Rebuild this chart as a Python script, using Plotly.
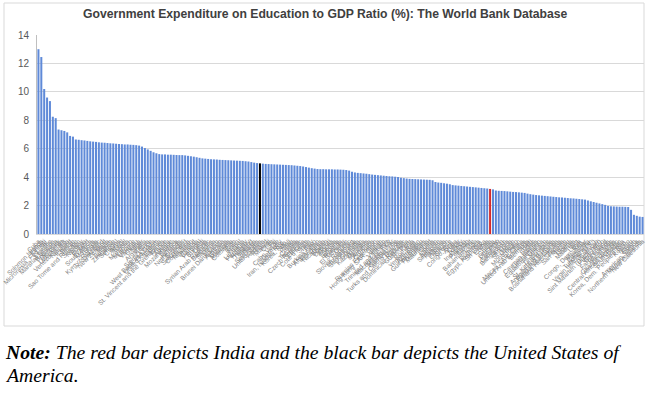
import plotly.graph_objects as go

countries = [
    "Cuba", "Solomon Islands", "Kiribati", "Micronesia, Fed. Sts.", "Lesotho", "Marshall Islands",
    "Botswana", "Denmark", "Uzbekistan", "Venezuela, RB", "Namibia", "Iceland", "Belize",
    "Sao Tome and Principe", "Sweden", "Norway", "Bolivia", "Finland", "South Africa", "Moldova",
    "Tunisia", "Kyrgyz Republic", "Swaziland", "New Zealand", "Malta", "Belgium", "Zimbabwe",
    "Senegal", "Cyprus", "Brazil", "Israel", "Mongolia", "Morocco", "Ukraine", "Vanuatu", "Ghana",
    "Niger", "Argentina", "Kenya", "Sierra Leone", "West Bank and Gaza", "United Kingdom", "Estonia",
    "St. Vincent and the Grenadines", "France", "Austria", "Mozambique", "Samoa", "Jamaica",
    "Netherlands", "Ecuador", "Switzerland", "Costa Rica", "Tajikistan", "Ireland", "Canada",
    "Portugal", "Burundi", "Latvia", "Syrian Arab Republic", "Barbados", "Slovenia", "Mexico",
    "Brunei Darussalam", "Australia", "Guyana", "Malaysia", "Colombia", "Togo", "Benin", "Nepal",
    "Lithuania", "Paraguay", "Hungary", "Thailand", "Belarus", "Seychelles", "United States",
    "Andorra", "Poland", "Malawi", "Chile", "Fiji", "Cabo Verde", "Germany", "Iran, Islamic Rep.",
    "Korea, Rep.", "Mali", "Palau", "Croatia", "Tanzania", "Czech Republic", "Ethiopia",
    "Cote d'Ivoire", "Spain", "Italy", "Burkina Faso", "Afghanistan", "Honduras", "Nicaragua",
    "Bhutan", "Djibouti", "Algeria", "Serbia", "Bulgaria", "Rwanda", "El Salvador", "Oman",
    "Slovak Republic", "Luxembourg", "Saudi Arabia", "Grenada", "Kazakhstan", "Georgia",
    "Mauritius", "Armenia", "Comoros", "Russian Federation", "Hong Kong SAR, China", "Japan",
    "Vietnam", "Trinidad and Tobago", "Macedonia, FYR", "Madagascar", "Gambia, The",
    "Turks and Caicos Islands", "Uganda", "Dominican Republic", "Guatemala", "Peru", "Romania",
    "Yemen, Rep.", "Azerbaijan", "Guinea-Bissau", "Philippines", "Mauritania", "Chad", "Liberia",
    "Bahrain", "Singapore", "Panama", "Albania", "Lebanon", "Greece", "Congo, Rep.", "Aruba",
    "Qatar", "Turkey", "Indonesia", "Pakistan", "Kuwait", "Bahamas, The", "Tonga", "Dominica",
    "Egypt, Arab Rep.", "Sri Lanka", "Eritrea", "India", "Guinea", "Uruguay", "Lao PDR",
    "Cameroon", "Bangladesh", "Angola", "St. Lucia", "Gabon", "Montenegro", "Jordan",
    "Macao SAR, China", "United Arab Emirates", "Bermuda", "Haiti", "Sudan", "Cayman Islands",
    "Liechtenstein", "Equatorial Guinea", "Monaco", "Timor-Leste", "St. Kitts and Nevis",
    "Antigua and Barbuda", "Papua New Guinea", "Bosnia and Herzegovina", "Zambia", "San Marino",
    "Tuvalu", "Nigeria", "Maldives", "Iraq", "Libya", "Congo, Dem. Rep.", "Myanmar", "Cambodia",
    "Turkmenistan", "Virgin Islands (U.S.)", "Curacao", "Sint Maarten (Dutch part)", "Puerto Rico",
    "Greenland", "Faroe Islands", "Isle of Man", "Channel Islands", "Central African Republic",
    "South Sudan", "Somalia", "Korea, Dem. People's Rep.", "Kosovo", "Nauru", "Guam",
    "American Samoa", "Northern Mariana Islands", "New Caledonia",
]

edu_pct_gdp = [
    13.0, 12.45, 10.2, 9.6, 9.35, 8.25, 8.15, 7.35, 7.3, 7.25,
    7.15, 6.9, 6.85, 6.65, 6.63, 6.6, 6.58, 6.55, 6.52, 6.5,
    6.48, 6.45, 6.43, 6.42, 6.4, 6.38, 6.37, 6.35, 6.33, 6.32,
    6.3, 6.3, 6.28, 6.27, 6.25, 6.22, 6.15, 6.05, 5.95, 5.85,
    5.75, 5.68, 5.62, 5.6, 5.6, 5.58, 5.58, 5.57, 5.56, 5.55,
    5.55, 5.53, 5.5, 5.47, 5.44, 5.4, 5.36, 5.32, 5.3, 5.28,
    5.26, 5.25, 5.24, 5.22, 5.21, 5.2, 5.19, 5.18, 5.17, 5.16,
    5.15, 5.14, 5.12, 5.1, 5.06, 5.02, 4.99, 4.97, 4.95, 4.93,
    4.92, 4.91, 4.9, 4.89, 4.88, 4.87, 4.86, 4.85, 4.84, 4.82,
    4.8, 4.78, 4.75, 4.71, 4.67, 4.63, 4.6, 4.57, 4.56, 4.56,
    4.55, 4.55, 4.55, 4.54, 4.54, 4.53, 4.52, 4.5, 4.46, 4.38,
    4.33, 4.3, 4.28, 4.26, 4.24, 4.21, 4.18, 4.16, 4.14, 4.12,
    4.1, 4.08, 4.06, 4.05, 4.03, 4.01, 3.96, 3.93, 3.9, 3.88,
    3.87, 3.86, 3.85, 3.84, 3.83, 3.82, 3.81, 3.78, 3.66, 3.62,
    3.6, 3.57, 3.54, 3.5, 3.44, 3.42, 3.4, 3.38, 3.36, 3.34,
    3.32, 3.3, 3.28, 3.26, 3.24, 3.22, 3.2, 3.17, 3.14, 3.06,
    3.04, 3.03, 3.02, 3.0, 2.98, 2.96, 2.95, 2.93, 2.91, 2.89,
    2.84, 2.8, 2.77, 2.74, 2.72, 2.7, 2.68, 2.66, 2.64, 2.62,
    2.6, 2.58, 2.57, 2.55, 2.53, 2.51, 2.5, 2.48, 2.46, 2.44,
    2.42, 2.36, 2.3, 2.25, 2.2, 2.15, 2.1, 2.05, 1.98, 1.95,
    1.94, 1.93, 1.92, 1.92, 1.91, 1.9, 1.7, 1.35, 1.28, 1.22,
    1.2, 0.78,
]

highlight = {"India": "#d42a2a", "United States": "#000000"}
base_color = "#5f8ad8"
colors = [highlight.get(c, base_color) for c in countries]

y_ticks = [0, 2, 4, 6, 8, 10, 12, 14]

title_text = "Government Expenditure on Education to GDP Ratio (%): The World Bank Database"
note_line1 = "<b>Note:</b> The red bar depicts India and the black bar depicts the United States of"
note_line2 = "America."

fig = go.Figure(go.Bar(x=countries, y=edu_pct_gdp, marker=dict(color=colors, line=dict(width=0))))

W, H = 655, 393
L, R, T, B = 37, 11, 35, 159
pw, ph = W - L - R, H - T - B

def px_x(x):
    return (x - L) / pw

def px_y(y):
    return (H - B - y) / ph

fig.update_layout(
    width=W, height=H,
    margin=dict(l=L, r=R, t=T, b=B, autoexpand=False),
    paper_bgcolor="white", plot_bgcolor="white",
    bargap=0.3,
    showlegend=False,
    font=dict(family="Liberation Sans, Arial, sans-serif", color="#595959"),
    xaxis=dict(
        type="category", tickmode="linear", dtick=1, tickangle=-45,
        tickfont=dict(size=6.5, color="#7f7f7f"), showgrid=False,
        showline=True, linecolor="#d9d9d9", ticks="", automargin=False,
    ),
    yaxis=dict(
        range=[0, 14], tickvals=y_ticks, showgrid=True, gridcolor="#d9d9d9",
        showline=True, linecolor="#bfbfbf", zeroline=False,
        tickfont=dict(size=10, color="#595959"), ticks="", automargin=False,
        ticklabelstandoff=5,
    ),
)

fig.add_annotation(
    text="<b>" + title_text + "</b>", xref="paper", yref="paper",
    x=px_x(325), y=px_y(14), xanchor="center", yanchor="middle", showarrow=False,
    font=dict(family="Liberation Sans, Arial, sans-serif", size=12.2, color="#404040"),
)

fig.add_shape(
    type="rect", xref="paper", yref="paper",
    x0=px_x(4), x1=px_x(644), y0=px_y(326), y1=px_y(3),
    line=dict(color="#d9d9d9", width=1), fillcolor="rgba(0,0,0,0)", layer="below",
)

for txt, yy in [(note_line1, 352), (note_line2, 375)]:
    fig.add_annotation(
        text="<i>" + txt + "</i>", xref="paper", yref="paper",
        x=px_x(3), y=px_y(yy), xanchor="left", yanchor="middle", showarrow=False,
        font=dict(family="Liberation Serif, DejaVu Serif, serif", size=19.7, color="#000000"),
    )

fig.write_html(
    "out.html",
    config={"displayModeBar": False},
    post_script="document.body.style.margin='0';",
)
